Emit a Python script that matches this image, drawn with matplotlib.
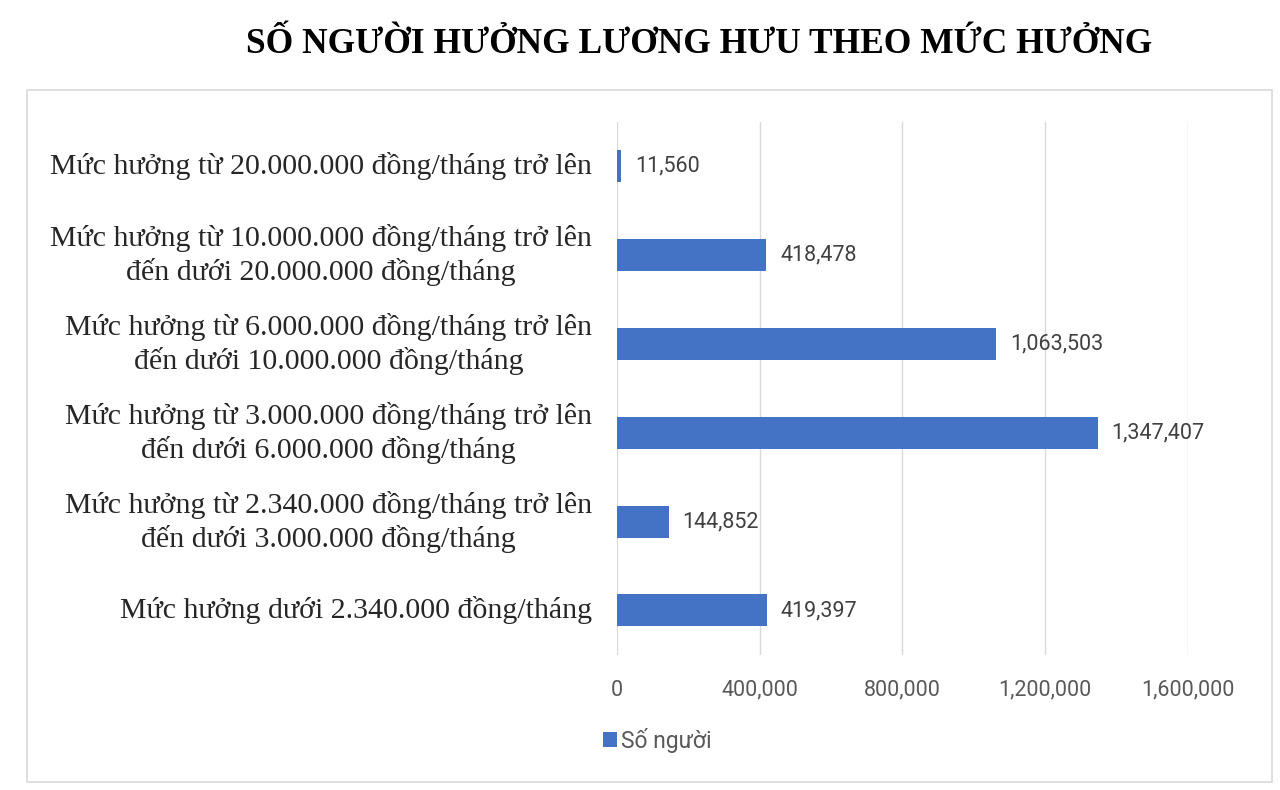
import matplotlib.pyplot as plt
from matplotlib.patches import Rectangle
from matplotlib.ticker import FuncFormatter

categories = [
    'Mức hưởng dưới 2.340.000 đồng/tháng',
    'Mức hưởng từ 2.340.000 đồng/tháng trở lên\nđến dưới 3.000.000 đồng/tháng',
    'Mức hưởng từ 3.000.000 đồng/tháng trở lên\nđến dưới 6.000.000 đồng/tháng',
    'Mức hưởng từ 6.000.000 đồng/tháng trở lên\nđến dưới 10.000.000 đồng/tháng',
    'Mức hưởng từ 10.000.000 đồng/tháng trở lên\nđến dưới 20.000.000 đồng/tháng',
    'Mức hưởng từ 20.000.000 đồng/tháng trở lên',
]
values = [419397, 144852, 1347407, 1063503, 418478, 11560]
x_ticks = [0, 400000, 800000, 1200000, 1600000]

bar_color = '#4472C4'
serif = 'Liberation Serif'
sans = 'Roboto'

fig = plt.figure(figsize=(12.8, 7.9), dpi=100)
ax = fig.add_axes([0.482, 0.171, 0.446, 0.675])

pos = list(range(len(categories)))
ax.barh(pos, values, height=0.36, color=bar_color, label='Số người', zorder=3)
for p, v in zip(pos, values):
    ax.annotate(f'{v:,}', (v, p), xytext=(10, 0), textcoords='offset points',
                va='center', ha='left', fontsize=15.5, family=sans, color='#404040')

ax.set_ylim(-0.5, len(categories) - 0.5)
ax.set_xlim(0, 1600000)
ax.set_xticks(x_ticks)
ax.xaxis.set_major_formatter(FuncFormatter(lambda x, _: f'{int(x):,}'))
ax.set_yticks(pos)
ax.set_yticklabels(categories, family=serif, fontsize=21.5, color='#262626',
                   ha='right', va='center', multialignment='center', linespacing=1.28)
ax.tick_params(axis='y', length=0, pad=18)
ax.tick_params(axis='x', length=0, pad=18, labelsize=15.5, labelcolor='#595959')
for lab in ax.get_xticklabels():
    lab.set_family(sans)
ax.grid(axis='x', color='#D9D9D9', linewidth=1, zorder=0)
for s in ax.spines.values():
    s.set_visible(False)

fig.text(0.546, 0.944, 'SỐ NGƯỜI HƯỞNG LƯƠNG HƯU THEO MỨC HƯỞNG', ha='center',
         va='center', fontsize=25.5, fontweight='bold', family=serif, color='black')

fig.patches.append(Rectangle((27 / 1280, 1 - 782 / 790), (1272 - 27) / 1280,
                             (782 - 90) / 790, transform=fig.transFigure,
                             fill=False, edgecolor='#D9D9D9', linewidth=1.2))

leg = fig.legend(loc='center left', bbox_to_anchor=(0.455, 0.063), frameon=False,
                 prop={'family': sans, 'size': 16.5}, handlelength=0.6,
                 handleheight=0.6, handletextpad=0.2)
for t in leg.get_texts():
    t.set_color('#595959')

fig.savefig('out.png', dpi=100)
